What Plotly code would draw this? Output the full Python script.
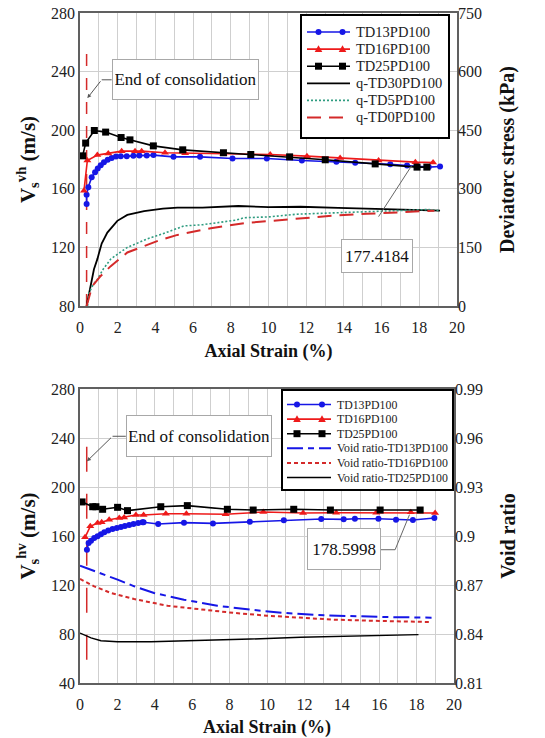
import plotly.graph_objects as go

# ---------------- Top panel: Vs(vh) and deviator stress ----------------
strain_td13_vh = [0.35, 0.35, 0.44, 0.62, 0.80, 0.94, 1.10, 1.27, 1.47, 1.68, 1.91, 2.16, 2.48, 2.83,
                  3.15, 3.54, 3.9, 4.96, 6.37, 8.09, 9.91, 11.77, 13.6, 14.6, 16.46, 17.35, 18.5, 19.1]
vs_td13_vh = [149.7, 155.9, 161.1, 167.9, 171.3, 173.9, 176.1, 178.2, 179.8, 181.1, 182.0, 182.3, 182.3, 182.5,
              182.7, 182.7, 183.0, 181.8, 181.8, 180.7, 180.7, 179.3, 178.4, 177.7, 176.8, 175.9, 174.8, 175.2]

strain_td16_vh = [0.21, 0.39, 0.92, 1.5, 2.21, 2.92, 3.27, 4.51, 5.58, 7.61, 10.09, 12.04, 13.8, 15.84, 17.79, 18.73]
vs_td16_vh = [158.6, 179.3, 183.0, 184.1, 185.7, 185.7, 185.7, 184.6, 184.3, 183.6, 183.4, 182.3, 181.1, 179.3, 178.2, 177.9]

strain_td25_vh = [0.14, 0.3, 0.76, 1.36, 2.18, 2.65, 3.89, 5.45, 7.61, 9.06, 11.12, 13.01, 15.66, 17.88, 18.4]
vs_td25_vh = [182.5, 191.2, 199.8, 198.7, 195.0, 193.4, 189.3, 186.6, 184.6, 183.4, 181.8, 179.8, 177.0, 174.8, 174.8]

strain_q_td30 = [0.35, 0.45, 0.57, 0.74, 0.92, 1.15, 1.45, 1.98, 2.51, 3.4, 4.4, 5.17, 6.5, 8.4, 10.0, 11.7,
                 13.7, 15.5, 17.5, 19.1]
q_td30 = [0, 25, 51, 94, 120, 160, 188, 218, 233, 243, 249, 252, 252, 256, 253, 254, 251, 249, 247, 244]

strain_q_td5 = [0.4, 0.48, 0.7, 0.92, 1.24, 1.63, 2.0, 2.51, 3.0, 3.58, 4.4, 5.52, 6.5, 7.5, 8.3, 8.7, 10.0,
                11.5, 12.7, 13.7, 15.0, 16.1, 17.3, 18.5, 19.1]
q_td5 = [0, 34, 55, 68, 95, 120, 133, 150, 160, 172, 185, 205, 208, 214, 220, 226, 228, 235, 237, 239, 242,
         244, 246, 247, 244]

strain_q_td0 = [0.35, 0.45, 0.65, 1.1, 1.63, 2.51, 3.4, 4.2, 5.17, 6.94, 8.7, 10.2, 12.0, 13.6, 15.2, 17.0, 18.8]
q_td0 = [0, 18, 51, 77, 102, 137, 154, 168, 182, 199, 212, 218, 226, 232, 236, 240, 244]

# ---------------- Bottom panel: Vs(hv) and void ratio ----------------
strain_td13_hv = [0.37, 0.46, 0.59, 0.76, 0.94, 1.12, 1.3, 1.51, 1.74, 1.97, 2.19, 2.4, 2.63, 2.86, 3.11, 3.34,
                  3.4, 4.18, 5.56, 7.11, 9.08, 10.9, 12.9, 14.1, 14.7, 15.96, 16.9, 17.8, 18.95]
vs_td13_hv = [148.8, 154.3, 156.2, 158.4, 159.7, 161.4, 163.0, 164.4, 165.7, 166.5, 167.3, 168.2, 169.0, 169.8,
              170.6, 171.2, 171.2, 169.8, 170.9, 170.3, 171.7, 172.8, 173.9, 173.6, 174.1, 174.1, 173.3, 173.1, 174.7]

strain_td16_hv = [0.27, 0.55, 0.94, 1.16, 1.56, 2.1, 2.36, 2.99, 3.4, 4.59, 5.69, 7.79, 9.8, 11.93, 13.7, 15.84,
                  17.69, 18.99]
vs_td16_hv = [158.9, 167.9, 170.6, 171.2, 173.3, 174.7, 175.2, 177.1, 177.1, 178.2, 178.2, 177.7, 179.6, 178.8,
              179.0, 179.0, 179.3, 178.8]

strain_td25_hv = [0.11, 0.68, 0.85, 1.21, 2.01, 2.54, 4.32, 5.74, 7.88, 9.26, 11.43, 13.39, 16.05, 18.19]
vs_td25_hv = [187.8, 183.9, 183.9, 181.8, 183.4, 180.7, 183.9, 184.8, 181.8, 181.2, 181.8, 181.2, 181.2, 181.2]

strain_e_td13 = [0.0, 1.12, 2.01, 2.9, 3.96, 5.56, 7.34, 9.12, 10.9, 12.67, 14.45, 16.23, 18.8]
e_td13 = [0.8818, 0.8773, 0.8733, 0.8692, 0.8651, 0.8610, 0.8573, 0.8549, 0.8529, 0.8516, 0.8508, 0.8504, 0.8500]

strain_e_td16 = [0.0, 0.76, 1.65, 2.9, 4.68, 6.45, 8.23, 10.0, 11.8, 13.56, 15.34, 17.1, 18.8]
e_td16 = [0.8737, 0.8692, 0.8651, 0.8614, 0.8573, 0.8549, 0.8529, 0.8512, 0.8498, 0.8488, 0.8482, 0.8476, 0.8473]

strain_e_td25 = [0.0, 0.59, 1.12, 2.01, 3.79, 6.45, 9.12, 11.8, 14.45, 16.23, 18.1]
e_td25 = [0.8406, 0.8376, 0.8359, 0.8353, 0.8353, 0.8359, 0.8369, 0.8380, 0.8388, 0.8392, 0.8396]

# end of consolidation markers
eoc_strain_top = [0.35, 0.35]
eoc_vs_top = [80, 253]
eoc_strain_bot = [0.36, 0.36]
eoc_vs_bot = [59, 243]

x_ticks = [0, 2, 4, 6, 8, 10, 12, 14, 16, 18, 20]

names_top = ["TD13PD100", "TD16PD100", "TD25PD100", "q-TD30PD100", "q-TD5PD100", "q-TD0PD100"]
names_bot = ["TD13PD100", "TD16PD100", "TD25PD100", "Void ratio-TD13PD100", "Void ratio-TD16PD100",
             "Void ratio-TD25PD100"]

FONT = "Liberation Serif, Times New Roman, serif"
BLUE = "#1616E6"
RED = "#EE1A1A"
BLACK = "#000000"
GREEN = "#2F9C80"
DRED = "#D42A2A"
GRID = "#CFCFCF"
AXL = "#606060"

# style per series: (color, dash, width, symbol)
style_top = [(BLUE, "solid", 1.6, "circle"), (RED, "solid", 1.6, "triangle-up"), (BLACK, "solid", 1.6, "square"),
             (BLACK, "solid", 1.8, None), (GREEN, "2px,2px", 1.6, None), (DRED, "14px,8px", 2.0, None)]
style_bot = [(BLUE, "solid", 1.6, "circle"), (RED, "solid", 1.6, "triangle-up"), (BLACK, "solid", 1.6, "square"),
             (BLUE, "16px,5px,6px,5px", 2.0, None), (DRED, "4px,3px", 2.0, None), (BLACK, "solid", 1.4, None)]
msize = {"circle": 6, "triangle-up": 7, "square": 7}

fig = go.Figure()


def add_series(x, y, name, st, xa, ya):
    color, dash, width, symbol = st
    if symbol:
        fig.add_trace(go.Scatter(x=x, y=y, name=name, mode="lines+markers",
                                 line=dict(color=color, width=width, dash=dash),
                                 marker=dict(symbol=symbol, size=msize[symbol], color=color),
                                 xaxis=xa, yaxis=ya))
    else:
        fig.add_trace(go.Scatter(x=x, y=y, name=name, mode="lines",
                                 line=dict(color=color, width=width, dash=dash), xaxis=xa, yaxis=ya))


fig.add_trace(go.Scatter(x=eoc_strain_top, y=eoc_vs_top, mode="lines", line=dict(color=DRED, width=1.5,
                         dash="12px,12px"), xaxis="x", yaxis="y"))
top_series = [(strain_td13_vh, vs_td13_vh, "y"), (strain_td16_vh, vs_td16_vh, "y"), (strain_td25_vh, vs_td25_vh, "y"),
              (strain_q_td30, q_td30, "y2"), (strain_q_td5, q_td5, "y2"), (strain_q_td0, q_td0, "y2")]
for (xs, ys, ya), nm, st in zip(top_series, names_top, style_top):
    add_series(xs, ys, nm, st, "x", ya)

fig.add_trace(go.Scatter(x=eoc_strain_bot, y=eoc_vs_bot, mode="lines", line=dict(color=DRED, width=1.5,
                         dash="25px,22px"), xaxis="x2", yaxis="y3"))
bot_series = [(strain_td13_hv, vs_td13_hv, "y3"), (strain_td16_hv, vs_td16_hv, "y3"), (strain_td25_hv, vs_td25_hv, "y3"),
              (strain_e_td13, e_td13, "y4"), (strain_e_td16, e_td16, "y4"), (strain_e_td25, e_td25, "y4")]
for (xs, ys, ya), nm, st in zip(bot_series, names_bot, style_bot):
    add_series(xs, ys, nm, st, "x2", ya)

tickf = dict(family=FONT, size=16, color="#222")
titf = dict(family=FONT, size=18, color="#111")

xcommon = dict(range=[0, 20], tickvals=x_ticks, showgrid=True, gridcolor=GRID, gridwidth=1,
               minor=dict(dtick=1, showgrid=True, gridcolor=GRID, gridwidth=1),
               showline=True, linecolor=AXL, linewidth=1.5, mirror=True,
               ticks="outside", ticklen=6, tickcolor="rgba(0,0,0,0)",
               tickfont=tickf, zeroline=False, automargin=False,
               title=dict(text="<b>Axial Strain (%)</b>", font=titf, standoff=9))

ML, MR, MT, MB, W, H = 80, 88, 13, 55, 545, 738
PW, PH = W - ML - MR, H - MT - MB

fig.update_layout(
    width=W, height=H,
    margin=dict(l=ML, r=MR, t=MT, b=MB, autoexpand=False),
    paper_bgcolor="white", plot_bgcolor="white",
    font=dict(family=FONT),
    showlegend=False,
    xaxis=dict(domain=[0, 1], anchor="y", **xcommon),
    yaxis=dict(domain=[1 - 293 / PH, 1], anchor="x", range=[80, 280], dtick=40, showgrid=True, gridcolor=GRID,
               showline=True, linecolor=AXL, linewidth=1.5, mirror=True, ticks="", tickfont=tickf,
               zeroline=False, automargin=False,
               title=dict(text="<b>V<sub>s</sub><sup>vh</sup> (m/s)</b>",
                          font=dict(family=FONT, size=21, color="#111"), standoff=10)),
    yaxis2=dict(overlaying="y", anchor="x", side="right", range=[0, 750], dtick=150, showgrid=False,
                ticks="", tickfont=tickf, zeroline=False, automargin=False,
                title=dict(text="<b>Deviatorc stress (kPa)</b>",
                           font=dict(family=FONT, size=20, color="#111"), standoff=18)),
    xaxis2=dict(domain=[0, 374 / PW], anchor="y3", **xcommon),
    yaxis3=dict(domain=[0, 294 / PH], anchor="x2", range=[40, 280], dtick=40, showgrid=True, gridcolor=GRID,
                showline=True, linecolor=AXL, linewidth=1.5, mirror=True, ticks="", tickfont=tickf,
                zeroline=False, automargin=False,
                title=dict(text="<b>V<sub>s</sub><sup>hv</sup> (m/s)</b>",
                           font=dict(family=FONT, size=21, color="#111"), standoff=10)),
    yaxis4=dict(overlaying="y3", anchor="x2", side="right", range=[0.81, 0.99], dtick=0.03,
                showgrid=False, ticks="", tickfont=tickf, zeroline=False, automargin=False,
                title=dict(text="<b>Void ratio</b>",
                           font=dict(family=FONT, size=20, color="#111"), standoff=18)),
)


# ---------- custom legends (pixel layout converted to paper coords) ----------
def px(x):
    return (x - ML) / PW


def py(y):
    return (H - MB - y) / PH


def draw_legend(names, styles, box, row0, step, line_x, mark_x, text_x, fsize):
    x0, x1, y0, y1 = box
    fig.add_shape(type="rect", xref="paper", yref="paper", x0=px(x0), x1=px(x1), y0=py(y1), y1=py(y0),
                  fillcolor="white", line=dict(color="#000", width=2))
    for i, (nm, st) in enumerate(zip(names, styles)):
        color, dash, width, symbol = st
        yy = py(row0 + i * step)
        fig.add_shape(type="line", xref="paper", yref="paper", x0=px(line_x[0]), x1=px(line_x[1]), y0=yy, y1=yy,
                      line=dict(color=color, width=width, dash=dash))
        if symbol:
            for mx in mark_x:
                common = dict(xref="paper", yref="paper", xsizemode="pixel", ysizemode="pixel",
                              xanchor=px(mx), yanchor=yy, fillcolor=color, line=dict(color=color, width=0))
                if symbol == "circle":
                    fig.add_shape(type="circle", x0=-3, x1=3, y0=-3, y1=3, **common)
                elif symbol == "square":
                    fig.add_shape(type="rect", x0=-3.5, x1=3.5, y0=-3.5, y1=3.5, **common)
                else:
                    fig.add_shape(type="path", path="M -3.8,-3 L 3.8,-3 L 0,3.8 Z", **common)
        fig.add_annotation(x=px(text_x), y=yy, xref="paper", yref="paper", text=nm, showarrow=False,
                           xanchor="left", yanchor="middle", font=dict(family=FONT, size=fsize, color="#222"))


draw_legend(names_top, style_top, (301, 449, 15, 138), 32, 17.1, (307, 350), (318.5, 342.5), 354, 14.5)
draw_legend(names_bot, style_bot, (282, 453, 390, 490), 404.5, 14.6, (287, 331), (297, 322), 335, 11.8)

box = dict(showarrow=False, bgcolor="white", bordercolor="#A8A8A8", borderwidth=1, borderpad=2,
           font=dict(family=FONT, size=17, color="#111"))

# top annotations
fig.add_annotation(x=5.6, y=234.7, xref="x", yref="y", text="End of consolidation", width=141, height=35, **box)
fig.add_annotation(x=0.39, y=221.9, xref="x", yref="y", ax=1.15, ay=234.4, axref="x", ayref="y", text="",
                   showarrow=True, arrowhead=2, arrowsize=0.8, arrowwidth=1, arrowcolor="#555")
fig.add_shape(type="line", x0=1.15, y0=234.4, x1=1.68, y1=234.4, xref="x", yref="y",
              line=dict(color="#555", width=1))
fig.add_annotation(x=15.77, y=114.2, xref="x", yref="y", text="177.4184", width=66, height=28, **box)
fig.add_shape(type="line", x0=15.84, y0=141, x1=17.6, y1=175.9, xref="x", yref="y",
              line=dict(color="#666", width=1))

# bottom annotations
fig.add_annotation(x=6.34, y=241.8, xref="x2", yref="y3", text="End of consolidation", width=140, height=36, **box)
fig.add_annotation(x=0.37, y=221, xref="x2", yref="y3", ax=1.74, ay=241.4, axref="x2", ayref="y3", text="",
                   showarrow=True, arrowhead=2, arrowsize=0.8, arrowwidth=1, arrowcolor="#555")
fig.add_shape(type="line", x0=1.74, y0=241.4, x1=2.45, y1=241.4, xref="x2", yref="y3",
              line=dict(color="#555", width=1))
fig.add_annotation(x=14.14, y=149.5, xref="x2", yref="y3", text="178.5998", width=68, height=36, **box)
fig.add_shape(type="path", path="M 16.05 148.8 L 16.85 148.8 L 17.62 177.4", xref="x2", yref="y3",
              line=dict(color="#666", width=1))

fig.write_html("out.html", config={"displayModeBar": False},
               post_script="document.body.style.margin='0';")
